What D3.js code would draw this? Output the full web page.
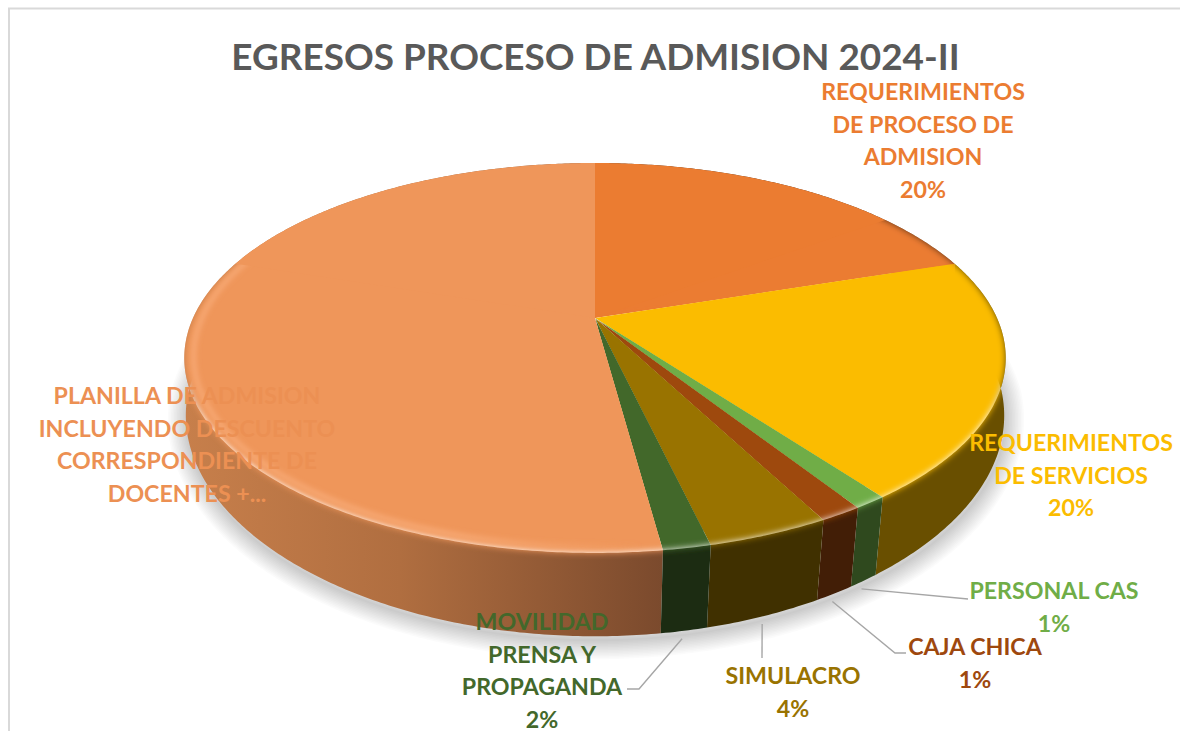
<!DOCTYPE html>
<html><head><meta charset="utf-8">
<script src="https://cdn.jsdelivr.net/npm/d3@7"></script>
<style>html,body{margin:0;padding:0;background:#fff;overflow:hidden}svg{display:block}text{font-family:Lato,"Open Sans",sans-serif;font-weight:700}</style>
</head><body><svg id="c" width="1180" height="731"></svg>
<script>
const titleText = "EGRESOS PROCESO DE ADMISION 2024-II";
const categories = ["REQUERIMIENTOS DE PROCESO DE ADMISION","REQUERIMIENTOS DE SERVICIOS","PERSONAL CAS","CAJA CHICA","SIMULACRO","MOVILIDAD PRENSA Y PROPAGANDA","PLANILLA DE ADMISION INCLUYENDO DESCUENTO CORRESPONDIENTE DE DOCENTES +..."];
const values = [20.0,19.8,1.1,1.4,4.0,1.55,52.15];
const labelLines = [
  ["REQUERIMIENTOS","DE PROCESO DE","ADMISION"],
  ["REQUERIMIENTOS","DE SERVICIOS"],
  ["PERSONAL CAS"],
  ["CAJA CHICA"],
  ["SIMULACRO"],
  ["MOVILIDAD","PRENSA Y","PROPAGANDA"],
  ["PLANILLA DE ADMISION","INCLUYENDO DESCUENTO","CORRESPONDIENTE DE","DOCENTES +..."]
];
const showPercent = [true,true,true,true,true,true,false];
const colors = ["#EB7C31","#FBBC00","#70AD47","#9E480E","#997300","#43682B","#EF965A"];
const labelColors = ["#EB7C31","#FBBC00","#70AD47","#9E480E","#997300","#43682B","#EC9053"];

// layout (separate from the data)
const labelAnchor = [[923,100],[1071,451],[1054,599],[975,655],[793,684],[542,630],[187,404]];
const leaderElbow = [null,null,[[968,599]],[[895,653],[906,653]],[[762,658]],[[639,689],[627,689]],null];
const LH = 32.6, FS = 23.2;

const svg = d3.select("#c"), defs = svg.append("defs");
const blur = (id,s)=>defs.append("filter").attr("id",id).attr("filterUnits","userSpaceOnUse")
  .attr("x",0).attr("y",0).attr("width",1180).attr("height",731)
  .append("feGaussianBlur").attr("stdDeviation",s);
blur("rim",3); blur("hl",2.6);

// perspective projection of the pie disc
const CX=595, AY=318, K=402, PC=0.205, PB=-121.6;
const top3 = (a,r=1)=>{const u=r*Math.sin(a),v=r*Math.cos(a),d=1+PC*v;return [CX+K*u/d,(AY+PB*v)/d];};
const low3 = (a,r=1)=>{const [x,y]=top3(a,r);const s=1-0.025*Math.max(0,y-330)/170;return [CX+(x-CX)*s,y+78+(y-500)*0.1];};
const line = d3.line();
const arcPts=(fn,a0,a1,r=1)=>{const n=Math.max(2,Math.ceil(Math.abs(a1-a0)/0.01));return d3.range(n+1).map(i=>fn(a0+(a1-a0)*i/n,r));};

const pie = d3.pie().sort(null).value(d=>d);
const arcs = pie(values);
const wedge=(a0,a1,r=1)=>line([top3(0,0),...arcPts(top3,a0,a1,r)])+"Z";
const wallPath=(a0,a1)=>line([...arcPts(top3,a0,a1),...arcPts(low3,a1,a0)])+"Z";

// frame
svg.append("path").attr("d","M1180,8.5H9V731").attr("fill","none").attr("stroke","#d9d9d9").attr("stroke-width",2);

// title
svg.append("text").attr("x",595.5).attr("y",70).attr("text-anchor","middle").attr("font-size",36.9).attr("fill","#595959").text(titleText);

// shadow: stacked translucent outlines, fading outward
const shadowD = line(arcPts((a)=>{const [x,y]=low3(a);return [x+1,y+4];},0,2*Math.PI))+"Z";
d3.range(38,0,-3).forEach(w=>{
  svg.append("path").attr("d",shadowD).attr("fill","none").attr("stroke","#000").attr("stroke-opacity",.016).attr("stroke-width",w).attr("stroke-linejoin","round");
});

// gradient for the large wall
const g = defs.append("linearGradient").attr("id","wallG").attr("gradientUnits","userSpaceOnUse")
  .attr("x1",185).attr("x2",662).attr("y1",0).attr("y2",0);
g.append("stop").attr("offset",0).attr("stop-color","#C77F4B");
g.append("stop").attr("offset",.45).attr("stop-color","#B06E40");
g.append("stop").attr("offset",1).attr("stop-color","#7B4A2D");

// highlight fades toward the front of the disc
const hg = defs.append("linearGradient").attr("id","hlG").attr("gradientUnits","userSpaceOnUse")
  .attr("x1",185).attr("x2",640).attr("y1",0).attr("y2",0);
hg.append("stop").attr("offset",0).attr("stop-color","#F7A873");
hg.append("stop").attr("offset",.6).attr("stop-color","#F7A873");
hg.append("stop").attr("offset",1).attr("stop-color","#F7A873").attr("stop-opacity",0);

const shade=c=>{const q=d3.rgb(c);return d3.rgb(q.r*.42,q.g*.42,q.b*.42).formatHex();};

// walls, back to front
const mid=d=>(d.startAngle+d.endAngle)/2;
const order = arcs.map((d,i)=>i).sort((a,b)=>Math.cos(mid(arcs[b]))-Math.cos(mid(arcs[a])));
svg.append("g").selectAll("path").data(order).join("path")
  .attr("d",i=>wallPath(arcs[i].startAngle,arcs[i].endAngle))
  .attr("fill",i=>i===6?"url(#wallG)":shade(colors[i]));

// tops with soft rim
arcs.forEach((d,i)=>{
  const id="cl"+i, cp=defs.append("clipPath").attr("id",id);
  cp.append("path").attr("d",wedge(d.startAngle,d.endAngle));
  cp.append("path").attr("d",wallPath(d.startAngle,d.endAngle));
  const gg=svg.append("g").attr("clip-path",`url(#${id})`);
  const e=0.12;
  gg.append("path").attr("d",wedge(d.startAngle,d.endAngle,.95)).attr("fill",colors[i]);
  gg.append("path").attr("d",wedge(d.startAngle-e,d.endAngle+e)).attr("fill",colors[i]).attr("filter","url(#rim)");
  if(i===6){
    const a0=d.startAngle, a1=Math.PI*1.64;
    gg.append("path").attr("d",line(arcPts(top3,a0,a1,.978))).attr("fill","none")
      .attr("stroke","url(#hlG)").attr("stroke-width",5).attr("filter","url(#hl)");
    // crisp far edge of the disc
    gg.append("path").attr("d",wedge(Math.PI*1.6,Math.PI*2)).attr("fill",colors[i]);
  }
  if(i===0){
    gg.append("path").attr("d",wedge(0,d.endAngle*0.75)).attr("fill",colors[i]);
  }
});

// leaders
arcs.forEach((d,i)=>{
  if(!leaderElbow[i]) return;
  const [x,y]=low3(mid(d));
  svg.append("path").attr("d",line([[x-2,y+8],...leaderElbow[i]])).attr("fill","none").attr("stroke","#A6A6A6").attr("stroke-width",1.4);
});

// labels
labelLines.forEach((ls,i)=>{
  const lines = showPercent[i]? [...ls, Math.round(values[i]/d3.sum(values)*100)+"%"] : ls;
  const t=svg.append("text").attr("text-anchor","middle").attr("font-size",FS).attr("fill",labelColors[i]);
  lines.forEach((s,j)=>t.append("tspan").attr("x",labelAnchor[i][0]).attr("y",labelAnchor[i][1]+j*LH).text(s));
});
</script></body></html>
